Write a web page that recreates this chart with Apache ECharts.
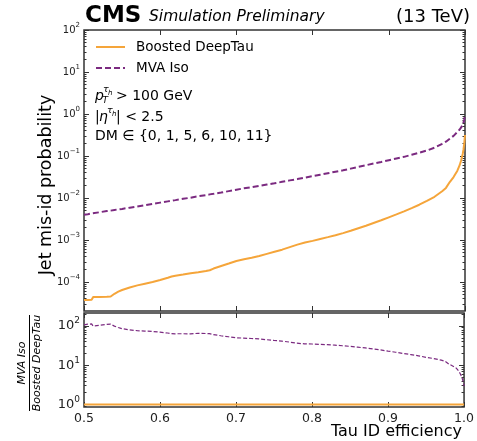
<!DOCTYPE html>
<html>
<head>
<meta charset="utf-8">
<script src="https://cdn.jsdelivr.net/npm/echarts@6/dist/echarts.min.js"></script>
<style>
  html, body { margin: 0; padding: 0; background: #fff; }
  #chart { width: 477px; height: 441px; }
</style>
</head>
<body>
<div id="chart"></div>
<script>
// Tau ID efficiency working points
const efficiency = [
  0.500, 0.505, 0.510, 0.512, 0.520, 0.530, 0.535, 0.540, 0.545, 0.550,
  0.560, 0.570, 0.580, 0.590, 0.600, 0.610, 0.615, 0.620, 0.630, 0.640,
  0.650, 0.660, 0.665, 0.670, 0.680, 0.690, 0.700, 0.710, 0.720, 0.730,
  0.740, 0.750, 0.760, 0.770, 0.780, 0.790, 0.800, 0.810, 0.820, 0.830,
  0.840, 0.850, 0.860, 0.870, 0.880, 0.890, 0.900, 0.910, 0.920, 0.930,
  0.940, 0.950, 0.960, 0.970, 0.975, 0.980, 0.985, 0.990, 0.993, 0.995,
  0.997, 0.998, 0.999, 1.000
];

// Jet mis-id probability, Boosted DeepTau
const deepTauMisId = [
  3.72e-5, 3.72e-5, 3.80e-5, 4.37e-5, 4.42e-5, 4.47e-5, 4.52e-5, 5.25e-5, 5.89e-5, 6.46e-5,
  7.41e-5, 8.32e-5, 9.12e-5, 1.00e-4, 1.12e-4, 1.26e-4, 1.35e-4, 1.41e-4, 1.51e-4, 1.62e-4,
  1.70e-4, 1.82e-4, 1.91e-4, 2.09e-4, 2.40e-4, 2.75e-4, 3.16e-4, 3.47e-4, 3.80e-4, 4.17e-4,
  4.68e-4, 5.25e-4, 5.89e-4, 6.76e-4, 7.76e-4, 8.71e-4, 9.55e-4, 1.06e-3, 1.17e-3, 1.30e-3,
  1.46e-3, 1.66e-3, 1.91e-3, 2.19e-3, 2.54e-3, 2.95e-3, 3.47e-3, 4.07e-3, 4.79e-3, 5.75e-3,
  6.92e-3, 8.51e-3, 1.07e-2, 1.45e-2, 1.74e-2, 2.40e-2, 3.16e-2, 4.47e-2, 6.03e-2, 7.94e-2,
  0.112, 0.141, 0.200, 0.316
];

// Jet mis-id probability, MVA Iso
const mvaIsoMisId = [
  3.98e-3, 4.12e-3, 4.27e-3, 4.32e-3, 4.57e-3, 4.90e-3, 5.01e-3, 5.19e-3, 5.37e-3, 5.50e-3,
  5.89e-3, 6.31e-3, 6.76e-3, 7.24e-3, 7.76e-3, 8.32e-3, 8.61e-3, 8.91e-3, 9.55e-3, 1.02e-2,
  1.10e-2, 1.17e-2, 1.22e-2, 1.26e-2, 1.35e-2, 1.46e-2, 1.58e-2, 1.70e-2, 1.82e-2, 1.95e-2,
  2.09e-2, 2.24e-2, 2.43e-2, 2.63e-2, 2.82e-2, 3.05e-2, 3.31e-2, 3.59e-2, 3.89e-2, 4.22e-2,
  4.57e-2, 5.01e-2, 5.50e-2, 6.03e-2, 6.61e-2, 7.24e-2, 7.94e-2, 8.71e-2, 9.55e-2, 0.107,
  0.120, 0.135, 0.158, 0.195, 0.219, 0.257, 0.302, 0.372, 0.427, 0.479,
  0.562, 0.631, 0.741, 0.933
];

const seriesNames = ['Boosted DeepTau', 'MVA Iso'];
const mainDecades = [-4, -3, -2, -1, 0, 1, 2];
const ratioDecades = [0, 1, 2];

const FONT = '"DejaVu Sans", sans-serif';
const ORANGE = '#f5a53a';
const PURPLE = '#7b2a80';
const INK = '#222';

const MAIN_RANGE = [-4.69, 2];
const RATIO_RANGE = [-0.065, 2.33];

const log10 = Math.log10;
function minorPositions(lo, hi) {
  const out = [];
  for (let n = Math.floor(lo); n <= Math.ceil(hi); n++) {
    for (let k = 2; k <= 9; k++) {
      const v = n + log10(k);
      if (v > lo && v < hi) out.push(v);
    }
  }
  return out;
}
function sup(n) { return String(n).replace('-', '\u2212'); }

function yAxisSet(gridIndex, range, decades, labelSize) {
  const common = {
    type: 'value', gridIndex, min: range[0], max: range[1], offset: 0,
    axisLine: { show: false, onZero: false }, splitLine: { show: false }
  };
  const tickStyle = { color: '#333', width: 1 };
  const major = (pos, withLabels) => Object.assign({}, common, {
    position: pos,
    axisTick: { show: true, inside: true, length: 5, customValues: decades, lineStyle: tickStyle },
    axisLabel: withLabels ? {
      show: true, customValues: decades, margin: 4,
      formatter: v => '{b|10}{s|' + sup(Math.round(v)) + '}',
      rich: {
        b: { fontSize: labelSize, fontFamily: FONT, color: INK, lineHeight: labelSize + 6 },
        s: { fontSize: Math.round(labelSize * 0.7), fontFamily: FONT, color: INK, verticalAlign: 'top', lineHeight: labelSize }
      }
    } : { show: false }
  });
  const minor = pos => Object.assign({}, common, {
    position: pos,
    axisTick: { show: true, inside: true, length: 2.5, customValues: minorPositions(range[0], range[1]), lineStyle: tickStyle },
    axisLabel: { show: false }
  });
  return [major('left', true), minor('left'), major('right', false), minor('right')];
}

function xAxis(gridIndex, pos, withLabels) {
  return {
    type: 'value', gridIndex, position: pos, min: 0.5, max: 1.0, interval: 0.1,
    axisLine: { show: false, onZero: false }, splitLine: { show: false },
    axisTick: { show: true, inside: true, length: 5, lineStyle: { color: '#333', width: 1 } },
    axisLabel: withLabels ? {
      show: true, margin: 5, fontSize: 12.5, fontFamily: FONT, color: INK,
      formatter: v => v.toFixed(1)
    } : { show: false }
  };
}

const mainDeep = efficiency.map((x, i) => [x, log10(deepTauMisId[i])]);
const mainMva = efficiency.map((x, i) => [x, log10(mvaIsoMisId[i])]);
const ratioDeep = efficiency.map((x, i) => [x, log10(deepTauMisId[i] / deepTauMisId[i])]);
const ratioMva = efficiency.map((x, i) => [x, log10(mvaIsoMisId[i] / deepTauMisId[i])]);

function txt(x, y, text, font, opts, rotation) {
  return {
    type: 'text', x, y, silent: true, rotation: rotation || 0,
    style: Object.assign({ text, font, fill: '#000', align: 'left', verticalAlign: 'middle' }, opts || {})
  };
}

const graphics = [
  txt(85, 16, 'CMS', 'bold 23px ' + FONT),
  txt(149, 17, 'Simulation Preliminary', 'italic 15.5px ' + FONT),
  txt(470, 17, '(13 TeV)', '18px ' + FONT, { align: 'right' }),

  // selection annotations
  txt(95, 96, 'p', 'italic 14px ' + FONT),
  txt(102.5, 101, 'T', 'italic 9px ' + FONT),
  txt(103, 90, '\u03c4', 'italic 9.5px ' + FONT),
  txt(108, 93, 'h', 'italic 7px ' + FONT),
  txt(116, 96, '> 100 GeV', '14px ' + FONT),
  txt(95, 117, '|', '14px ' + FONT),
  txt(99, 117, '\u03b7', 'italic 14px ' + FONT),
  txt(107, 111, '\u03c4', 'italic 9.5px ' + FONT),
  txt(112, 114, 'h', 'italic 7px ' + FONT),
  txt(116, 117, '| < 2.5', '14px ' + FONT),
  txt(95, 136, 'DM \u2208 {0, 1, 5, 6, 10, 11}', '14px ' + FONT),

  // axis titles
  txt(46, 185, 'Jet mis-id probability', '17.5px ' + FONT, { align: 'center' }, Math.PI / 2),
  txt(462, 432, 'Tau ID efficiency', '16px ' + FONT, { align: 'right' }),

  // ratio title as a fraction
  txt(22, 363, 'MVA Iso', 'italic 11px ' + FONT, { align: 'center' }, Math.PI / 2),
  txt(37, 363, 'Boosted DeepTau', 'italic 11px ' + FONT, { align: 'center' }, Math.PI / 2),
  { type: 'line', silent: true, shape: { x1: 29.5, y1: 315, x2: 29.5, y2: 411 }, style: { stroke: '#000', lineWidth: 1 } }
];

const option = {
  animation: false,
  backgroundColor: '#fff',
  grid: [
    { left: 84, top: 30, width: 381, height: 281, show: true, borderColor: '#333', borderWidth: 1.5, backgroundColor: 'transparent' },
    { left: 84, top: 313, width: 381, height: 94, show: true, borderColor: '#333', borderWidth: 1.5, backgroundColor: 'transparent' }
  ],
  xAxis: [
    xAxis(0, 'bottom', false), xAxis(0, 'top', false),
    xAxis(1, 'bottom', true), xAxis(1, 'top', false)
  ],
  yAxis: [].concat(yAxisSet(0, MAIN_RANGE, mainDecades, 10), yAxisSet(1, RATIO_RANGE, ratioDecades, 13)),
  legend: {
    data: seriesNames, orient: 'vertical', left: 95, top: 40, padding: 0,
    itemWidth: 29, itemHeight: 14, itemGap: 7,
    itemStyle: { opacity: 0, borderWidth: 0 },
    textStyle: { fontSize: 13.5, fontFamily: FONT, color: '#000', lineHeight: 14, padding: [0, 0, 0, 6] },
    selectedMode: false
  },
  graphic: graphics,
  series: [
    { name: seriesNames[0], type: 'line', xAxisIndex: 0, yAxisIndex: 0, data: mainDeep, showSymbol: false, symbol: 'none',
      lineStyle: { color: ORANGE, width: 2 }, itemStyle: { color: ORANGE }, silent: true },
    { name: seriesNames[1], type: 'line', xAxisIndex: 0, yAxisIndex: 0, data: mainMva, showSymbol: false, symbol: 'none',
      lineStyle: { color: PURPLE, width: 2, type: [6, 3] }, itemStyle: { color: PURPLE }, silent: true },
    { name: seriesNames[0], type: 'line', xAxisIndex: 2, yAxisIndex: 4, data: ratioDeep, showSymbol: false, symbol: 'none',
      lineStyle: { color: ORANGE, width: 2 }, itemStyle: { color: ORANGE }, silent: true },
    { name: seriesNames[1], type: 'line', xAxisIndex: 2, yAxisIndex: 4, data: ratioMva, showSymbol: false, symbol: 'none',
      lineStyle: { color: PURPLE, width: 1.2, type: [4, 2] }, itemStyle: { color: PURPLE }, silent: true }
  ]
};

const chart = echarts.init(document.getElementById('chart'), null, { renderer: 'canvas' });
chart.setOption(option);
</script>
</body>
</html>
